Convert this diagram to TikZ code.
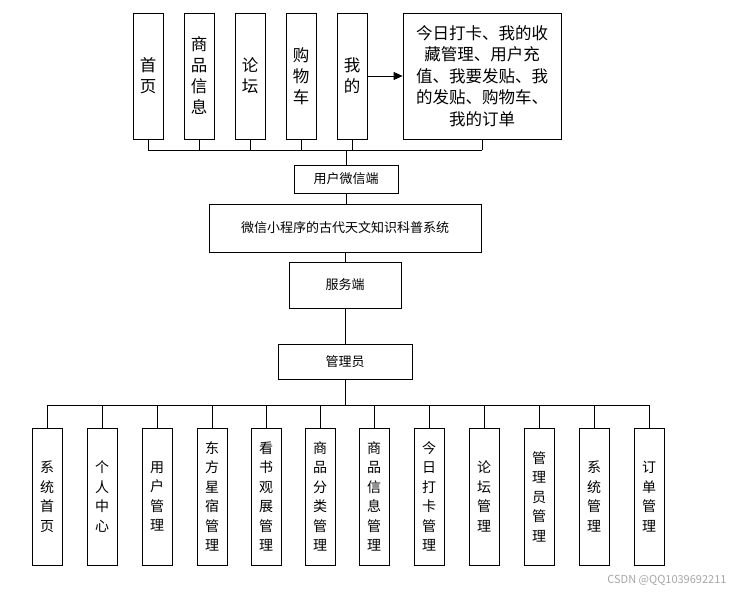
\documentclass[tikz,border=0pt]{standalone}
\usepackage{fontspec}
\newfontfamily\cjk{Noto Sans CJK SC}
\usetikzlibrary{arrows.meta}
\begin{document}
\begin{tikzpicture}[x=1pt,y=-1pt,
  box/.style={draw,thick,inner sep=0pt,align=center,font=\cjk},
  mid/.style={font=\cjk\fontsize{13}{16}\selectfont},
  ln/.style={draw,thick}]
\useasboundingbox (0,0) rectangle (750,594);
% top
\foreach \n/\x/\t in {t1/133/首\\页, t2/184/商\\品\\信\\息, t3/235/论\\坛, t4/286/购\\物\\车, t5/337/我\\的}{
  \node[box,minimum width=30pt,minimum height=126pt,font=\cjk\fontsize{16.5}{21}\selectfont] (\n) at (\x+15,76) {\t};
}
\node[box,minimum width=158pt,minimum height=126pt,font=\cjk\fontsize{16.5}{21.5}\selectfont] (big) at (482,76) {今日打卡、我的收\\藏管理、用户充\\值、我要发贴、我\\的发贴、购物车、\\我的订单};
\draw[thick,-{Triangle[length=9pt,width=8pt]}] (t5.east) -- (big.west);
\node[box,mid,minimum width=104pt,minimum height=28pt] (wx) at (346,179) {用户微信端};
\coordinate (bt) at (346,150);
\foreach \n in {t1,t2,t3,t4,t5,big}{ \draw[ln] (\n.south) -- (\n.south |- bt); }
\draw[ln] (t1.south |- bt) -- (big.south |- bt);
\draw[ln] (bt) -- (wx.north);
\node[box,mid,minimum width=272pt,minimum height=48pt] (mp) at (345,228) {微信小程序的古代天文知识科普系统};
\draw[ln] (wx.south) -- (wx.south |- mp.north);
\node[box,mid,minimum width=112pt,minimum height=46pt] (sv) at (345,285) {服务端};
\draw[ln] (sv.north |- mp.south) -- (sv.north);
\node[box,mid,minimum width=134pt,minimum height=35pt] (ad) at (345,361.5) {管理员};
\draw[ln] (sv.south) -- (ad.north);
\coordinate (bb) at (345,405);
\draw[ln] (ad.south) -- (bb);
\foreach \n/\x/\t in {b1/47/系\\统\\首\\页, b2/102/个\\人\\中\\心, b3/157/用\\户\\管\\理, b4/212/东\\方\\星\\宿\\管\\理, b5/266/看\\书\\观\\展\\管\\理, b6/320/商\\品\\分\\类\\管\\理, b7/374/商\\品\\信\\息\\管\\理, b8/429/今\\日\\打\\卡\\管\\理, b9/484/论\\坛\\管\\理, b10/539/管\\理\\员\\管\\理, b11/594/系\\统\\管\\理, b12/649/订\\单\\管\\理}{
  \node[box,minimum width=30pt,minimum height=137pt,font=\cjk\fontsize{14}{19.5}\selectfont] (\n) at (\x,496.5) {\t};
  \draw[ln] (\n.north) -- (\n.north |- bb);
}
\draw[ln] (b1.north |- bb) -- (b12.north |- bb);
\node[font=\cjk\fontsize{11}{13}\selectfont,text=black!35,anchor=east] (wm) at (730,580) {CSDN @QQ1039692211};
\end{tikzpicture}
\end{document}
